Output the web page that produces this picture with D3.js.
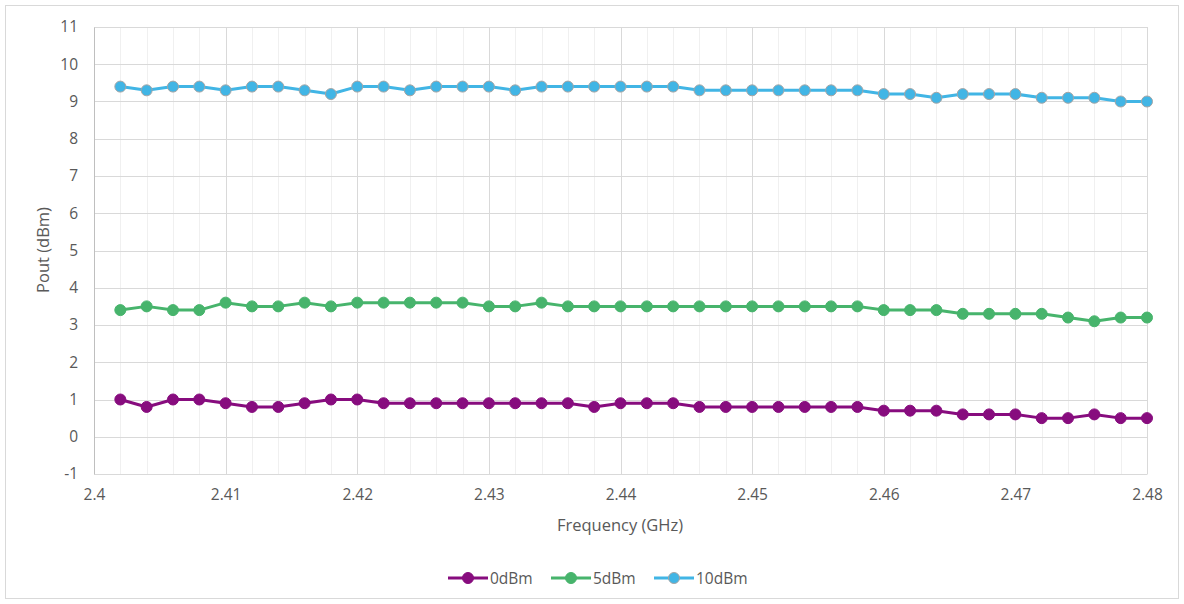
<!DOCTYPE html>
<html>
<head>
<meta charset="utf-8">
<script src="https://cdn.jsdelivr.net/npm/d3@7"></script>
<style>
  body { margin: 0; background: #fff; }
  text { font-family: "Open Sans", "Noto Sans", sans-serif; fill: #595959; }
</style>
</head>
<body>
<svg id="chart" width="1184" height="604"></svg>
<script>
// frequencies in GHz
const freqs = d3.range(1, 41).map(i => +(2.4 + i * 0.002).toFixed(3));
const p0 = [1.0, 0.8, 1.0, 1.0, 0.9, 0.8, 0.8, 0.9, 1.0, 1.0,
            0.9, 0.9, 0.9, 0.9, 0.9, 0.9, 0.9, 0.9, 0.8, 0.9,
            0.9, 0.9, 0.8, 0.8, 0.8, 0.8, 0.8, 0.8, 0.8, 0.7,
            0.7, 0.7, 0.6, 0.6, 0.6, 0.5, 0.5, 0.6, 0.5, 0.5];
const p5 = [3.4, 3.5, 3.4, 3.4, 3.6, 3.5, 3.5, 3.6, 3.5, 3.6,
            3.6, 3.6, 3.6, 3.6, 3.5, 3.5, 3.6, 3.5, 3.5, 3.5,
            3.5, 3.5, 3.5, 3.5, 3.5, 3.5, 3.5, 3.5, 3.5, 3.4,
            3.4, 3.4, 3.3, 3.3, 3.3, 3.3, 3.2, 3.1, 3.2, 3.2];
const p10 = [9.4, 9.3, 9.4, 9.4, 9.3, 9.4, 9.4, 9.3, 9.2, 9.4,
             9.4, 9.3, 9.4, 9.4, 9.4, 9.3, 9.4, 9.4, 9.4, 9.4,
             9.4, 9.4, 9.3, 9.3, 9.3, 9.3, 9.3, 9.3, 9.3, 9.2,
             9.2, 9.1, 9.2, 9.2, 9.2, 9.1, 9.1, 9.1, 9.0, 9.0];
const seriesNames = ['0dBm', '5dBm', '10dBm'];
const xTicks = [2.4, 2.41, 2.42, 2.43, 2.44, 2.45, 2.46, 2.47, 2.48];
const yTicks = d3.range(-1, 12);

const series = [
    { name: seriesNames[0], values: p0, color: '#870c7e', stroke: '#870c7e' },
    { name: seriesNames[1], values: p5, color: '#47b46c', stroke: '#47b46c' },
    { name: seriesNames[2], values: p10, color: '#41b5e5', stroke: '#a5a5a5' }
];

const svg = d3.select('#chart');
const plotLeft = 94, plotRight = 1147, plotTop = 27, plotBottom = 474;
const fontStack = '"Open Sans", "Noto Sans", sans-serif';

// outer frame
svg.append('rect')
    .attr('x', 5.5).attr('y', 5.5)
    .attr('width', 1173).attr('height', 593)
    .attr('fill', 'none').attr('stroke', '#d9d9d9');

const x = d3.scaleLinear().domain([2.4, 2.48]).range([plotLeft, plotRight]);
const y = d3.scaleLinear().domain([-1, 11]).range([plotBottom, plotTop]);

// minor vertical grid
const minor = d3.range(0, 41).map(i => 2.4 + i * 0.002);
svg.append('g').selectAll('line').data(minor).enter().append('line')
    .attr('x1', d => Math.round(x(d)) + 0.5).attr('x2', d => Math.round(x(d)) + 0.5)
    .attr('y1', plotTop).attr('y2', plotBottom)
    .attr('stroke', '#f0f0f0');

// major grid
svg.append('g').selectAll('line').data(xTicks).enter().append('line')
    .attr('x1', d => Math.round(x(d)) + 0.5).attr('x2', d => Math.round(x(d)) + 0.5)
    .attr('y1', plotTop).attr('y2', plotBottom)
    .attr('stroke', '#d9d9d9');
svg.append('g').selectAll('line').data(yTicks).enter().append('line')
    .attr('x1', plotLeft).attr('x2', plotRight)
    .attr('y1', d => Math.round(y(d)) + 0.5).attr('y2', d => Math.round(y(d)) + 0.5)
    .attr('stroke', '#d9d9d9');

// axes
const yAxis = d3.axisLeft(y).tickValues(yTicks).tickSize(0).tickPadding(16)
    .tickFormat(d => String(d));
const gy = svg.append('g').attr('transform', `translate(${plotLeft},0)`).call(yAxis);
gy.select('.domain').attr('stroke', '#bfbfbf');
gy.selectAll('text').style('font-size', '15.5px').attr('fill', '#595959')
    .style('font-family', fontStack);

const xAxis = d3.axisBottom(x).tickValues(xTicks).tickSize(0).tickPadding(15)
    .tickFormat(d => String(d));
const gx = svg.append('g').attr('transform', `translate(0,${plotBottom})`).call(xAxis);
gx.select('.domain').attr('stroke', '#d9d9d9');
gx.selectAll('text').style('font-size', '15.5px').attr('fill', '#595959')
    .style('font-family', fontStack);

// titles
svg.append('text')
    .attr('x', 620).attr('y', 531)
    .attr('text-anchor', 'middle')
    .style('font-size', '16.5px')
    .text('Frequency (GHz)');
svg.append('text')
    .attr('transform', 'translate(49,250) rotate(-90)')
    .attr('text-anchor', 'middle')
    .style('font-size', '16.5px')
    .text('Pout (dBm)');

// lines and markers
const line = d3.line().x((d, i) => x(freqs[i])).y(d => y(d));
series.forEach(s => {
    svg.append('path')
        .datum(s.values)
        .attr('d', line)
        .attr('fill', 'none')
        .attr('stroke', s.color)
        .attr('stroke-width', 3)
        .attr('stroke-linejoin', 'round');
    svg.append('g').selectAll('circle').data(s.values).enter().append('circle')
        .attr('cx', (d, i) => x(freqs[i]))
        .attr('cy', d => y(d))
        .attr('r', 5.5)
        .attr('fill', s.color)
        .attr('stroke', s.stroke)
        .attr('stroke-width', 1);
});

// legend
const legendX = [448, 551, 654];
series.forEach((s, i) => {
    const g = svg.append('g').attr('transform', `translate(${legendX[i]},578)`);
    g.append('line').attr('x1', 0).attr('x2', 40).attr('y1', 0).attr('y2', 0)
        .attr('stroke', s.color).attr('stroke-width', 3);
    g.append('circle').attr('cx', 20).attr('cy', 0).attr('r', 5.5)
        .attr('fill', s.color).attr('stroke', s.stroke);
    g.append('text').attr('x', 42).attr('y', 5.5).style('font-size', '15.5px').text(s.name);
});
</script>
</body>
</html>
